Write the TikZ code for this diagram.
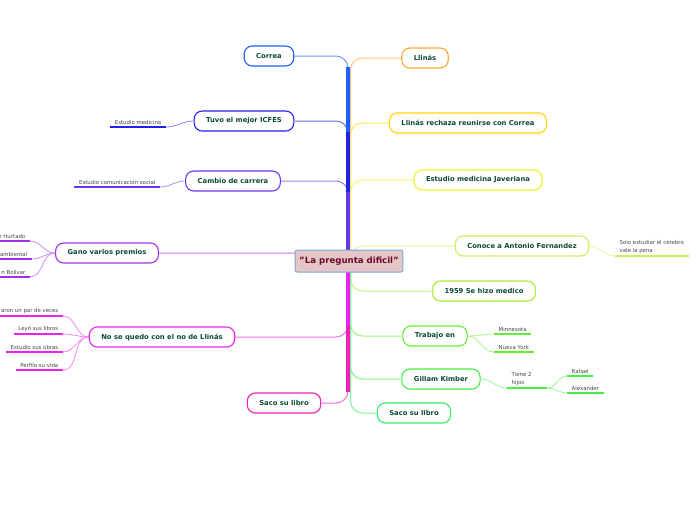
\documentclass[tikz,border=0pt]{standalone}
\usepackage{fontspec}
\setmainfont{DejaVu Sans}
\usetikzlibrary{calc,backgrounds}

\definecolor{nodetext}{HTML}{0D4A3A}
\definecolor{leafgray}{HTML}{444444}
\definecolor{rootfill}{HTML}{E4C5C8}
\definecolor{rootline}{HTML}{7AA8D4}
\definecolor{roottext}{HTML}{6B0A25}
\definecolor{cCorrea}{HTML}{1F5FFF}
\definecolor{cIcfes}{HTML}{2222E6}
\definecolor{cCambio}{HTML}{6A35F0}
\definecolor{cPremios}{HTML}{A030E8}
\definecolor{cNoquedo}{HTML}{EE22EE}
\definecolor{cSacoL}{HTML}{F020B8}
\definecolor{cLlinas}{HTML}{FFA830}
\definecolor{cRechaza}{HTML}{FFD500}
\definecolor{cJaveriana}{HTML}{F2F224}
\definecolor{cConoce}{HTML}{C8F060}
\definecolor{cMedico}{HTML}{A8EE33}
\definecolor{cTrabajo}{HTML}{66EE33}
\definecolor{cGillam}{HTML}{44EE44}
\definecolor{cSacoR}{HTML}{33EE66}

\tikzset{
  mainnode/.style={draw=#1, line width=1.1pt, fill=white, rounded corners=8pt,
    minimum height=20pt, inner xsep=12pt, inner ysep=0pt,
    font=\bfseries\fontsize{6.8}{8}\selectfont, text=nodetext},
  leaf/.style={inner xsep=4.5pt, inner ysep=2pt, align=left,
    font=\fontsize{5.4}{8}\selectfont, text=leafgray},
  uline/.style={line width=1.7pt, #1},
  twig/.style={line width=0.8pt, #1!55},
  branch/.style={line width=1pt, rounded corners=12pt, #1!65},
  trunk/.style={line width=3.2pt, #1}
}

\begin{document}
\begin{tikzpicture}[x=1pt,y=-1pt]
\useasboundingbox (0,0) rectangle (696,520);

% centre
\node[draw=rootline, line width=1pt, fill=rootfill, rounded corners=2pt,
  minimum height=22pt, inner xsep=4pt, text=roottext,
  font=\bfseries\fontsize{8.6}{10}\selectfont] (root) at (349,261) {\symbol{34}La pregunta dificil\symbol{34}};
\coordinate (hubL) at (348,261);
\coordinate (hubR) at (350.5,261);

% left branches
\node[mainnode=cCorrea] (correa) at (269,56) {Correa};
\node[mainnode=cIcfes] (icfes) at (244,121) {Tuvo el mejor ICFES};
\node[mainnode=cCambio] (cambio) at (233,181) {Cambio de carrera};
\node[mainnode=cPremios] (premios) at (107,253) {Gano varios premios};
\node[mainnode=cNoquedo] (noquedo) at (162,337) {No se quedo con el no de Llinás};
\node[mainnode=cSacoL] (sacoL) at (284,403) {Saco su libro};

% right branches
\node[mainnode=cLlinas] (llinas) at (425,58) {Llinás};
\node[mainnode=cRechaza] (rechaza) at (468,123) {Llinás rechaza reunirse con Correa};
\node[mainnode=cJaveriana] (javeriana) at (478,180) {Estudio medicina Javeriana};
\node[mainnode=cConoce] (conoce) at (522,246) {Conoce a Antonio Fernandez};
\node[mainnode=cMedico] (medico) at (484,291) {1959 Se hizo medico};
\node[mainnode=cTrabajo] (trabajo) at (435,336) {Trabajo en};
\node[mainnode=cGillam] (gillam) at (441,379) {Gillam Kimber};
\node[mainnode=cSacoR] (sacoR) at (414,413) {Saco su libro};

% leaves
\node[leaf, anchor=south east] (medicina) at (166,127) {Estudio medicina};
\node[leaf, anchor=south east] (comunicacion) at (160,187) {Estudio comunicación social};
\node[leaf, anchor=south east] (hurtado) at (30,241) {z Hurtado};
\node[leaf, anchor=south east] (ambiental) at (32,259) {ambiental};
\node[leaf, anchor=south east] (bolivar) at (30,277) {n Bolivar};
\node[leaf, anchor=south east] (veces) at (63,316) {aron un par de veces};
\node[leaf, anchor=south east] (libros) at (63,334) {Leyó sus libros};
\node[leaf, anchor=south east] (obras) at (63,352) {Estudio sus obras};
\node[leaf, anchor=south east] (vida) at (63,370) {Perfilo su vida};
\node[leaf, anchor=south west] (cerebro) at (615,256) {Solo estudiar el cerebro\\vale la pena};
\node[leaf, anchor=south west] (minnesota) at (494,334) {Minnesota};
\node[leaf, anchor=south west] (nuevayork) at (494,352) {Nueva York};
\node[leaf, anchor=south west, text width=31pt] (hijos) at (507,388) {Tiene 2\\hijos};
\node[leaf, anchor=south west] (rafael) at (567,376) {Rafael};
\node[leaf, anchor=south west] (alexander) at (567,393) {Alexander};

\begin{scope}[on background layer]
% branches to the trunk
\foreach \n/\c in {correa/cCorrea, icfes/cIcfes, cambio/cCambio, premios/cPremios,
  sacoL/cSacoL, noquedo/cNoquedo}
  \draw[branch=\c] (hubL) |- (\n.east);
\foreach \n/\c in {correa/cCorrea, icfes/cIcfes, cambio/cCambio, sacoL/cSacoL, noquedo/cNoquedo}
  \draw[trunk=\c] (hubL) -- ($(hubL |- \n.east)!11pt!(hubL)$);
\foreach \n/\c in {llinas/cLlinas, rechaza/cRechaza, javeriana/cJaveriana, conoce/cConoce,
  medico/cMedico, trabajo/cTrabajo, gillam/cGillam, sacoR/cSacoR}
  \draw[branch=\c] (hubR) |- (\n.west);

% twigs to the leaves
\draw[twig=cIcfes] (icfes.west) to[out=180,in=0] (medicina.south east);
\draw[twig=cCambio] (cambio.west) to[out=180,in=0] (comunicacion.south east);
\foreach \l in {hurtado, ambiental, bolivar}
  \draw[twig=cPremios] (premios.west) to[out=180,in=0] (\l.south east);
\foreach \l in {veces, libros, obras, vida}
  \draw[twig=cNoquedo] (noquedo.west) to[out=180,in=0] (\l.south east);
\draw[twig=cConoce] (conoce.east) to[out=0,in=180] (cerebro.south west);
\foreach \l in {minnesota, nuevayork}
  \draw[twig=cTrabajo] (trabajo.east) to[out=0,in=180] (\l.south west);
\draw[twig=cGillam] (gillam.east) to[out=0,in=180] (hijos.south west);
\foreach \l in {rafael, alexander}
  \draw[twig=cGillam] (hijos.south east) to[out=0,in=180] (\l.south west);
\end{scope}

% underlines
\foreach \l/\c in {medicina/cIcfes, comunicacion/cCambio, hurtado/cPremios, ambiental/cPremios,
  bolivar/cPremios, veces/cNoquedo, libros/cNoquedo, obras/cNoquedo, vida/cNoquedo,
  cerebro/cConoce, minnesota/cTrabajo, nuevayork/cTrabajo, hijos/cGillam,
  rafael/cGillam, alexander/cGillam}
  \draw[uline=\c] (\l.south west) -- (\l.south east);
\end{tikzpicture}
\end{document}
